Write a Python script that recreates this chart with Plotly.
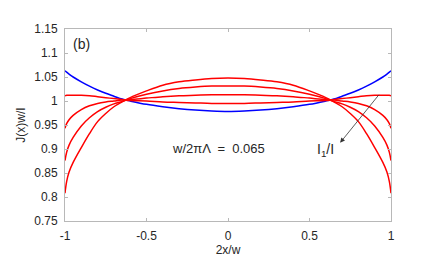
import plotly.graph_objects as go

x_pos = [-1, -0.99, -0.975, -0.95, -0.9, -0.85, -0.8, -0.75, -0.7, -0.65, -0.6, -0.5, -0.4, -0.3, -0.2, -0.1, 0,
         0.1, 0.2, 0.3, 0.4, 0.5, 0.6, 0.65, 0.7, 0.75, 0.8, 0.85, 0.9, 0.95, 0.975, 0.99, 1]

blue_J = [1.063, 1.060, 1.056, 1.050, 1.040, 1.031, 1.023, 1.016, 1.010, 1.004, 1.000, 0.993, 0.988, 0.984, 0.981, 0.979, 0.978,
          0.979, 0.981, 0.984, 0.988, 0.993, 1.000, 1.004, 1.010, 1.016, 1.023, 1.031, 1.040, 1.050, 1.056, 1.060, 1.063]

red_1 = [1.011, 1.012, 1.012, 1.012, 1.012, 1.011, 1.009, 1.007, 1.005, 1.003, 1.001, 1.000, 0.998, 0.997, 0.996, 0.995, 0.995,
         0.995, 0.996, 0.997, 0.998, 1.000, 1.001, 1.003, 1.005, 1.007, 1.009, 1.011, 1.012, 1.012, 1.012, 1.012, 1.011]

red_2 = [0.943, 0.953, 0.961, 0.970, 0.982, 0.990, 0.995, 0.998, 1.000, 1.002, 1.003, 1.006, 1.009, 1.011, 1.012, 1.013, 1.013,
         1.013, 1.012, 1.011, 1.009, 1.006, 1.003, 1.002, 1.000, 0.998, 0.995, 0.990, 0.982, 0.970, 0.961, 0.953, 0.943]

red_3 = [0.876, 0.893, 0.908, 0.924, 0.948, 0.965, 0.978, 0.987, 0.994, 0.999, 1.005, 1.014, 1.021, 1.026, 1.029, 1.031, 1.031,
         1.031, 1.029, 1.026, 1.021, 1.014, 1.005, 0.999, 0.994, 0.987, 0.978, 0.965, 0.948, 0.924, 0.908, 0.893, 0.876]

red_4 = [0.808, 0.832, 0.852, 0.872, 0.903, 0.932, 0.957, 0.974, 0.988, 0.998, 1.007, 1.021, 1.033, 1.040, 1.044, 1.047, 1.048,
         1.047, 1.044, 1.040, 1.033, 1.021, 1.007, 0.998, 0.988, 0.974, 0.957, 0.932, 0.903, 0.872, 0.852, 0.832, 0.808]

red_series = [red_1, red_2, red_3, red_4]

x_ticks = [-1, -0.5, 0, 0.5, 1]
x_tick_labels = ["-1", "-0.5", "0", "0.5", "1"]
y_ticks = [0.75, 0.8, 0.85, 0.9, 0.95, 1.0, 1.05, 1.1, 1.15]
y_tick_labels = ["0.75", "0.8", "0.85", "0.9", "0.95", "1", "1.05", "1.1", "1.15"]

font_family = "Liberation Sans, Arial, Helvetica, sans-serif"
text_col = "#262626"
axis_col = "#b8b8b8"

fig = go.Figure()
fig.add_trace(go.Scatter(x=x_pos, y=blue_J, mode="lines", line=dict(color="#0000ff", width=1.5, shape="spline"),
                         showlegend=False, hoverinfo="skip"))
for ys in red_series:
    fig.add_trace(go.Scatter(x=x_pos, y=ys, mode="lines", line=dict(color="#ff0000", width=1.5, shape="spline"),
                             showlegend=False, hoverinfo="skip"))

axis_common = dict(showgrid=False, zeroline=False, showline=True, linecolor=axis_col, linewidth=1,
                   mirror="ticks", ticks="inside", ticklen=3, tickcolor=axis_col, tickwidth=1,
                   ticklabelstandoff=4,
                   tickfont=dict(family=font_family, size=12, color=text_col))

fig.update_xaxes(range=[-1, 1], tickvals=x_ticks, ticktext=x_tick_labels,
                 title=dict(text="2x/w", font=dict(family=font_family, size=12, color=text_col), standoff=1),
                 **axis_common)
fig.update_yaxes(range=[0.75, 1.15], tickvals=y_ticks, ticktext=y_tick_labels,
                 title=dict(text="J(x)w/I", font=dict(family=font_family, size=12, color=text_col), standoff=6),
                 **axis_common)

fig.add_annotation(x=-0.9, y=1.118, xref="x", yref="y", text="(b)", showarrow=False,
                   font=dict(family=font_family, size=14, color=text_col))
fig.add_annotation(x=-0.06, y=0.901, xref="x", yref="y", text="w/2πΛ  =  0.065", showarrow=False,
                   font=dict(family=font_family, size=13, color=text_col))
fig.add_annotation(x=0.6, y=0.897, xref="x", yref="y", text="I<sub>1</sub>/I", showarrow=False,
                   font=dict(family=font_family, size=14, color=text_col))
fig.add_annotation(x=0.688, y=0.913, xref="x", yref="y", ax=0.933, ay=1.016, axref="x", ayref="y",
                   text="", showarrow=True, arrowhead=2, arrowsize=1.2, arrowwidth=0.8, arrowcolor="#333333")

fig.update_layout(width=424, height=257, margin=dict(l=56, r=41, t=21, b=35),
                  plot_bgcolor="white", paper_bgcolor="white")

fig.write_html("out.html")
